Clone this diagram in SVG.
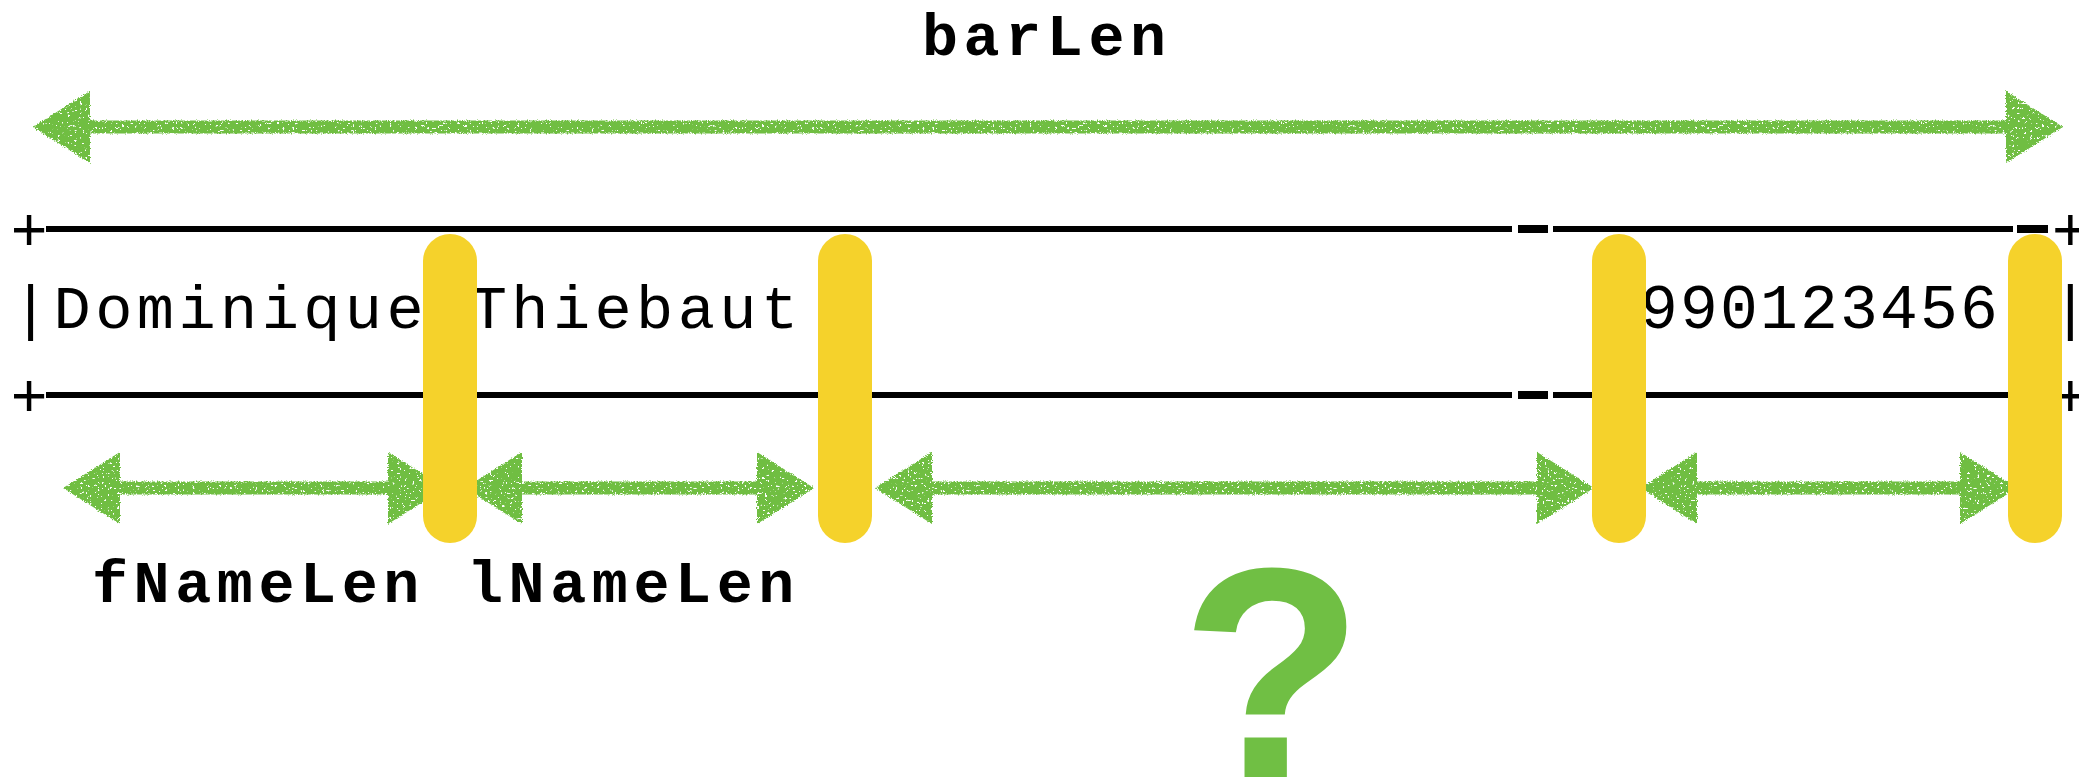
<svg xmlns="http://www.w3.org/2000/svg" width="2079" height="778" viewBox="0 0 2079 778">
  <style>
    .mono { font-family: "Liberation Mono", "DejaVu Sans Mono", monospace; fill: #000; }
    .cell { font-size: 62px; letter-spacing: 4.4px; }
    .edge { font-size: 62px; text-anchor: middle; }
    .tail { font-size: 62px; text-anchor: end; letter-spacing: -10px; }
    .digits { font-size: 63px; letter-spacing: 2.2px; }
    .label { font-size: 60px; font-weight: bold; letter-spacing: 5.6px; }
    .rule { fill: #000; }
    .tick { fill: #000; }
    .chalk { fill: none; stroke: #6FBE42; stroke-width: 13; marker-start: url(#head); marker-end: url(#head); }
    .cut { fill: #F5D22B; }
    .ask { font-family: "Liberation Sans", Arial, sans-serif; font-weight: bold; font-size: 300px; fill: #70BF44; }
  </style>
  <defs>
    <!-- chalk texture: roughened edges with a few speckled gaps -->
    <filter id="chalky" filterUnits="userSpaceOnUse" x="0" y="0" width="2079" height="778">
      <feTurbulence type="fractalNoise" baseFrequency="0.8" numOctaves="2" seed="4" result="jitter"/>
      <feDisplacementMap in="SourceGraphic" in2="jitter" scale="4" xChannelSelector="R" yChannelSelector="G" result="rough"/>
      <feTurbulence type="fractalNoise" baseFrequency="0.4" numOctaves="2" seed="11" result="grain"/>
      <feColorMatrix in="grain" type="matrix" values="0 0 0 0 0  0 0 0 0 0  0 0 0 0 0  -20 0 0 0 14.4" result="holes"/>
      <feComposite in="rough" in2="holes" operator="in"/>
    </filter>
    <marker id="head" viewBox="0 0 57 72" refX="0" refY="36" markerWidth="57" markerHeight="72" markerUnits="userSpaceOnUse" orient="auto-start-reverse">
      <path d="M0,0 L57,36 L0,72 Z" fill="#6FBE42"/>
    </marker>
  </defs>

  <!-- labels -->
  <g id="label-barLen">
    <text class="mono label" x="922" y="55">barLen</text>
  </g>
  <g id="label-fNameLen">
    <text class="mono label" x="92" y="602">fNameLen</text>
  </g>
  <g id="label-lNameLen">
    <text class="mono label" x="467" y="602">lNameLen</text>
  </g>

  <!-- ASCII table row -->
  <g id="table">
    <text class="mono edge" x="29" y="250">+</text>
    <rect class="rule" x="46" y="226" width="1466" height="6"/>
    <rect class="tick" x="1518" y="225" width="30" height="8"/>
    <rect class="rule" x="1553" y="226" width="460" height="6"/>
    <rect class="tick" x="2017" y="225" width="31" height="8"/>
    <text class="mono tail" x="2079" y="250">+</text>

    <text class="mono cell" x="12" y="328">|Dominique Thiebaut</text>
    <text class="mono digits" x="1640" y="328">990123456</text>
    <text class="mono tail" x="2077" y="328" style="letter-spacing:-12px">|</text>

    <text class="mono edge" x="29" y="416">+</text>
    <rect class="rule" x="46" y="392" width="1466" height="6"/>
    <rect class="tick" x="1518" y="391" width="30" height="8"/>
    <rect class="rule" x="1553" y="392" width="460" height="6"/>
    <rect class="tick" x="2017" y="391" width="31" height="8"/>
    <text class="mono tail" x="2079" y="416">+</text>
  </g>

  <!-- double-headed measuring arrows -->
  <g id="connectors" filter="url(#chalky)">
    <path id="arrow-barLen" class="chalk" d="M90,127 L2006,127"/>
    <path id="arrow-fName" class="chalk" d="M120,488 L388,488"/>
    <path id="arrow-lName" class="chalk" d="M522,488 L757,488"/>
    <path id="arrow-gap" class="chalk" d="M932,488 L1537,488"/>
    <path id="arrow-id" class="chalk" d="M1697,488 L1960,488"/>
  </g>

  <!-- yellow field boundaries -->
  <g id="cut-1"><rect class="cut" x="423" y="234" width="54" height="309" rx="27"/></g>
  <g id="cut-2"><rect class="cut" x="818" y="234" width="54" height="309" rx="27"/></g>
  <g id="cut-3"><rect class="cut" x="1592" y="234" width="54" height="309" rx="27"/></g>
  <g id="cut-4"><rect class="cut" x="2008" y="234" width="54" height="309" rx="27"/></g>

  <g id="question">
    <text class="ask" x="1272" y="777" text-anchor="middle">?</text>
  </g>
</svg>
